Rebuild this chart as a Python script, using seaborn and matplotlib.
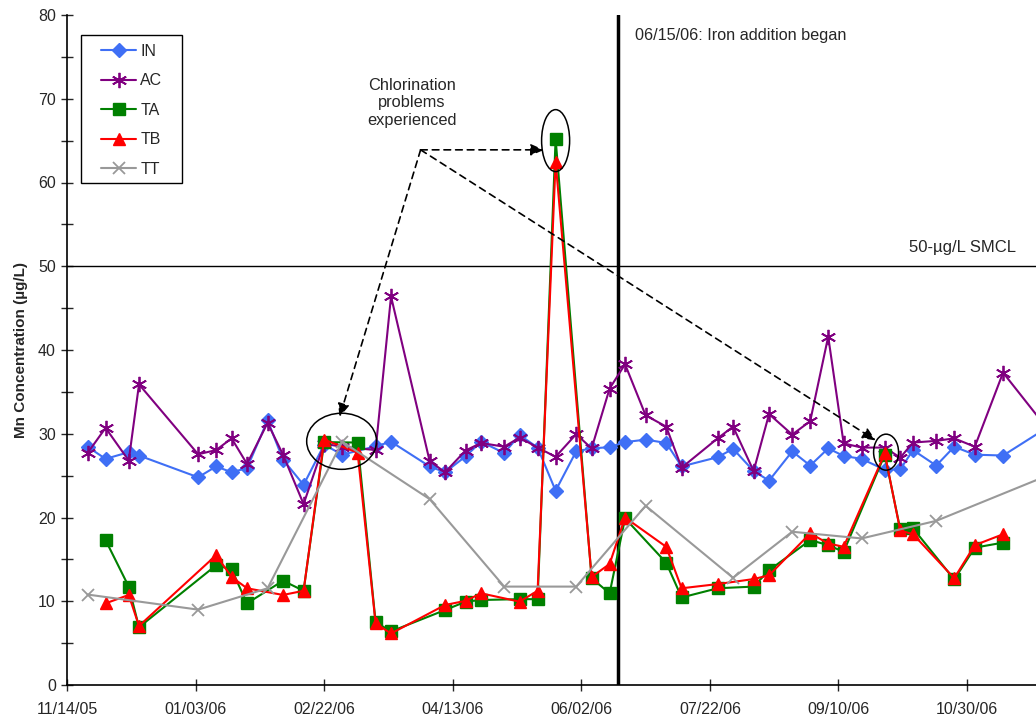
import numpy as np
import pandas as pd
import matplotlib
matplotlib.use("Agg")
import matplotlib.pyplot as plt
import matplotlib.dates as mdates
from matplotlib.patches import Ellipse, Rectangle
from matplotlib.ticker import MultipleLocator
import seaborn as sns

# ---------------- data ----------------
in_dates = ["2005-11-22", "2005-11-29", "2005-12-08", "2005-12-12", "2006-01-04", "2006-01-11",
            "2006-01-17", "2006-01-23", "2006-01-31", "2006-02-06", "2006-02-14", "2006-02-22",
            "2006-03-01", "2006-03-14", "2006-03-20", "2006-04-04", "2006-04-10", "2006-04-18",
            "2006-04-24", "2006-05-03", "2006-05-09", "2006-05-16", "2006-05-23", "2006-05-31",
            "2006-06-06", "2006-06-13", "2006-06-19", "2006-06-27", "2006-07-05", "2006-07-11",
            "2006-07-25", "2006-07-31", "2006-08-08", "2006-08-14", "2006-08-23", "2006-08-30",
            "2006-09-06", "2006-09-12", "2006-09-19", "2006-09-28", "2006-10-04", "2006-10-09",
            "2006-10-18", "2006-10-25", "2006-11-02", "2006-11-13", "2006-12-01"]
in_values = [28.45, 27.0, 27.8, 27.4, 24.8, 26.1, 25.4, 25.9, 31.6, 26.9, 23.9, 28.7,
             27.5, 28.5, 29.05, 26.1, 25.4, 27.3, 29.05, 27.7, 29.85, 28.35, 23.2, 27.9,
             28.25, 28.4, 29.0, 29.3, 28.9, 26.1, 27.2, 28.2, 25.55, 24.4, 27.9, 26.2,
             28.25, 27.35, 27.0, 25.7, 25.75, 28.05, 26.2, 28.45, 27.5, 27.4, 30.9]

ac_dates = in_dates
ac_values = [27.7, 30.7, 26.8, 35.9, 27.55, 28.05, 29.45, 26.4, 31.3, 27.5, 21.6, 28.8,
             28.45, 28.05, 46.4, 26.75, 25.4, 28.0, 28.9, 28.45, 29.55, 28.35, 27.25, 29.95,
             28.25, 35.4, 38.3, 32.2, 30.85, 25.95, 29.45, 30.85, 25.55, 32.35, 29.9, 31.5,
             41.6, 28.85, 28.35, 28.35, 27.15, 28.95, 29.15, 29.45, 28.45, 37.3, 30.3]

ta_dates = ["2005-11-29", "2005-12-08", "2005-12-12", "2006-01-11", "2006-01-17", "2006-01-23",
            "2006-02-06", "2006-02-14", "2006-02-22", "2006-03-07", "2006-03-14", "2006-03-20",
            "2006-04-10", "2006-04-18", "2006-04-24", "2006-05-09", "2006-05-16", "2006-05-23",
            "2006-06-06", "2006-06-13", "2006-06-19", "2006-07-05", "2006-07-11", "2006-07-25",
            "2006-08-08", "2006-08-14", "2006-08-30", "2006-09-06", "2006-09-12", "2006-09-28",
            "2006-10-04", "2006-10-09", "2006-10-25", "2006-11-02", "2006-11-13"]
ta_values = [17.3, 11.75, 6.9, 14.3, 13.8, 9.75, 12.45, 11.25, 29.0, 28.95, 7.5, 6.4,
             8.95, 9.95, 10.15, 10.25, 10.25, 65.2, 12.75, 10.95, 19.9, 14.6, 10.45, 11.55,
             11.75, 13.7, 17.3, 16.7, 15.9, 27.5, 18.6, 18.7, 12.6, 16.4, 17.0]

tb_dates = ta_dates
tb_values = [9.75, 10.75, 7.05, 15.5, 12.9, 11.55, 10.75, 11.25, 29.3, 27.75, 7.35, 6.15,
             9.55, 10.05, 10.95, 9.95, 11.25, 62.5, 12.9, 14.45, 20.0, 16.5, 11.55, 12.05,
             12.65, 13.1, 18.1, 16.9, 16.5, 27.65, 18.45, 18.0, 12.75, 16.7, 18.0]

tt_dates = ["2005-11-22", "2006-01-04", "2006-01-31", "2006-03-01", "2006-04-04", "2006-05-03",
            "2006-05-31", "2006-06-27", "2006-07-31", "2006-08-23", "2006-09-19", "2006-10-18",
            "2006-12-01"]
tt_values = [10.8, 9.0, 11.55, 29.05, 22.2, 11.75, 11.75, 21.4, 12.8, 18.3, 17.5, 19.6, 25.1]

x_tick_labels = ["11/14/05", "01/03/06", "02/22/06", "04/13/06", "06/02/06", "07/22/06",
                 "09/10/06", "10/30/06"]

# ---------------- style ----------------
sns.set_style("ticks")
plt.rcParams["font.family"] = ["Liberation Sans", "DejaVu Sans"]

fig = plt.figure(figsize=(10.36, 7.17), dpi=100)
ax = fig.add_axes([67 / 1036, 1 - 685 / 717, 1 - 67 / 1036, 670 / 717])

series = [
    ("IN", in_dates, in_values, "#3F6FF5", "D", 7.5, 1.0),
    ("AC", ac_dates, ac_values, "#800080", (6, 2, 0), 11, 1.3),
    ("TA", ta_dates, ta_values, "#008000", "s", 8, 1.0),
    ("TB", tb_dates, tb_values, "#FF0000", "^", 9, 1.0),
    ("TT", tt_dates, tt_values, "#999999", "x", 9, 1.3),
]
for name, d, v, c, m, ms, mew in series:
    df = pd.DataFrame({"date": pd.to_datetime(d), "value": v})
    sns.lineplot(data=df, x="date", y="value", ax=ax, color=c, marker=m, markersize=ms,
                 markeredgecolor=c, markerfacecolor=c, markeredgewidth=mew,
                 linewidth=1.5, label=name, clip_on=True)

start = pd.Timestamp("2005-11-14")
ax.set_xlim(mdates.date2num(start), mdates.date2num(start + pd.Timedelta(days=376.8)))
ax.set_ylim(0, 80)

tick_dates = [start + pd.Timedelta(days=50 * i) for i in range(len(x_tick_labels))]
ax.set_xticks([mdates.date2num(t) for t in tick_dates])
ax.set_xticklabels(x_tick_labels, fontsize=11.5)
ax.yaxis.set_major_locator(MultipleLocator(10))
ax.yaxis.set_minor_locator(MultipleLocator(5))
ax.tick_params(axis="y", which="major", direction="inout", length=8, width=1, labelsize=11.5, pad=4)
ax.tick_params(axis="y", which="minor", direction="inout", length=8, width=1)
ax.tick_params(axis="x", which="major", direction="inout", length=8, width=1, pad=8)

for s in ["top", "right"]:
    ax.spines[s].set_visible(False)
for s in ["left", "bottom"]:
    ax.spines[s].set_linewidth(1.2)
    ax.spines[s].set_color("black")

ax.set_xlabel("")
ax.set_ylabel("Mn Concentration (µg/L)", fontsize=11, fontweight="bold", labelpad=7)

# reference lines
ax.axhline(50, color="black", linewidth=1.0, zorder=1)
iron = mdates.date2num(pd.Timestamp("2006-06-16 08:00"))
ax.axvline(iron, color="black", linewidth=2.5, zorder=1)

ax.text(iron + 6.5, 77.5, "06/15/06: Iron addition began", fontsize=11.7, va="center", ha="left")
ax.text(mdates.date2num(start + pd.Timedelta(days=369)), 51.3, "50-µg/L SMCL",
        fontsize=12, ha="right", va="bottom")
ax.text(mdates.date2num(start + pd.Timedelta(days=134)), 69.5,
        "Chlorination\nproblems\nexperienced", fontsize=11.8, ha="center", va="center",
        linespacing=1.2)

# annotation arrows
src = (mdates.date2num(start + pd.Timedelta(days=137.5)), 63.9)
targets = [(185.5, 63.9), (106.0, 32.0), (314.5, 29.2)]
for dd, vv in targets:
    ax.annotate("", xy=(mdates.date2num(start + pd.Timedelta(days=dd)), vv), xytext=src,
                arrowprops=dict(arrowstyle="-|>,head_length=0.8,head_width=0.35",
                                linestyle=(0, (4, 3)), color="black", linewidth=1.2,
                                shrinkA=0, shrinkB=0))

# ellipses
for dd, vv, w, h in [(106.8, 29.1, 27.2, 6.7), (190.0, 65.0, 10.9, 7.4), (318.5, 27.8, 9.7, 4.3)]:
    ax.add_patch(Ellipse((mdates.date2num(start + pd.Timedelta(days=dd)), vv), w, h,
                         fill=False, edgecolor="black", linewidth=1.1, zorder=5))

# legend (frameless) plus its own box
leg = ax.legend(loc="upper left", bbox_to_anchor=(0.0351, 0.9567), borderaxespad=0,
                fontsize=11.5, frameon=False, handlelength=2.2, labelspacing=0.9,
                borderpad=0, handletextpad=0.25)
ax.add_patch(Rectangle((0.01445, 0.7493), 0.1042, 0.2209, transform=ax.transAxes,
                       fill=True, facecolor="white", edgecolor="black", linewidth=1.0,
                       zorder=4))
leg.set_zorder(6)

fig.savefig("out.png", dpi=100)
